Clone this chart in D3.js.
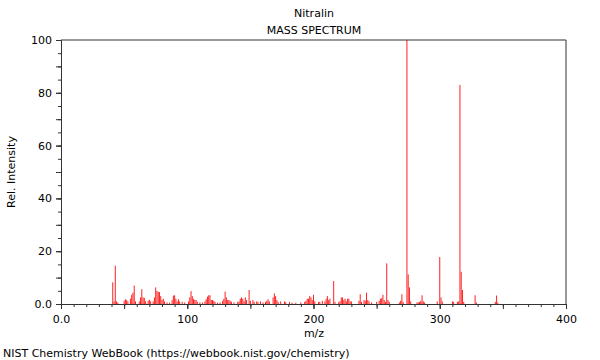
<!DOCTYPE html>
<html>
<head>
<meta charset="utf-8">
<script src="https://cdn.jsdelivr.net/npm/d3@7"></script>
<style>
  body { margin: 0; background: #fff; }
  svg { display: block; font-family: "DejaVu Sans", sans-serif; }
</style>
</head>
<body>
<svg id="chart" width="600" height="360"></svg>
<script>
// ---- data ----
const title = "Nitralin";
const subtitle = "MASS SPECTRUM";
const xLabel = "m/z";
const yLabel = "Rel. Intensity";
const footer = "NIST Chemistry WebBook (https://webbook.nist.gov/chemistry)";

const mz = [41,42,43,44,45,50,51,52,53,55,56,57,58,59,62,63,64,65,66,67,69,70,71,73,74,75,76,77,78,79,80,81,82,84,86,88,89,90,91,92,93,94,96,98,
  101,102,103,104,105,106,107,108,110,112,114,115,116,117,118,119,120,121,122,124,126,128,129,130,131,132,133,134,135,137,140,141,142,143,144,145,146,147,149,150,
  152,153,155,156,158,160,162,163,164,165,168,169,170,171,172,174,177,178,181,183,186,190,193,194,195,196,197,198,199,200,201,204,205,207,209,210,211,212,213,
  216,217,220,221,222,223,224,225,226,227,228,229,230,236,237,238,240,241,242,243,244,246,250,252,253,254,255,256,257,258,259,260,268,269,270,271,
  274,275,276,277,282,283,284,285,286,287,288,298,300,301,302,310,311,314,315,316,317,318,319,328,329,344,345,346];
const intensity = [8.2,1.0,14.5,1.0,0.5,1.2,1.8,1.5,1.0,2.0,3.5,4.3,7.0,1.0,1.0,2.5,5.6,2.5,2.3,1.0,1.2,1.6,1.0,1.0,2.5,6.3,5.0,4.6,4.5,3.0,1.5,2.0,1.0,0.6,0.5,1.5,3.2,3.3,2.0,1.0,1.8,1.0,0.8,0.6,
  1.0,2.5,4.9,3.0,2.0,1.5,1.5,0.8,0.6,0.6,1.0,1.8,2.8,3.3,3.3,1.5,1.5,1.2,0.8,0.5,0.6,1.2,2.0,4.7,2.5,1.5,1.5,1.2,0.8,0.6,0.8,1.0,2.0,2.5,2.0,1.0,2.5,1.5,5.3,1.2,
  1.5,0.8,1.0,0.8,1.0,0.6,0.8,1.2,1.8,1.0,2.5,4.0,3.0,1.5,0.8,1.0,1.0,0.7,0.8,0.5,0.5,0.6,0.8,1.2,2.0,2.0,3.0,2.5,1.5,3.5,1.0,0.8,0.8,1.2,1.0,2.0,3.0,1.5,2.0,
  8.7,0.8,0.8,1.0,2.5,2.5,1.5,2.0,1.0,2.0,2.0,1.0,1.0,1.2,3.7,0.8,1.5,1.2,4.3,1.5,1.0,0.6,0.8,1.2,2.0,2.2,3.5,1.5,0.8,15.4,1.5,0.8,0.6,1.2,3.7,0.8,
  100,11.2,6.3,1.0,0.6,0.6,0.8,1.2,3.3,1.0,0.6,1.0,17.8,2.5,1.0,1.0,0.8,0.8,1.0,83,12.2,5.3,0.8,3.3,0.6,0.8,3.2,0.5];

const xTickValues = [0,100,200,300,400];
const xTickLabels = ["0.0","100","200","300","400"];
const yTickValues = [0,20,40,60,80,100];
const yTickLabels = ["0.0","20","40","60","80","100"];

// ---- layout ----
const svg = d3.select("#chart");
const mLeft = 61, mRight = 566, mTop = 40, mBottom = 304;

const x = d3.scaleLinear().domain([0, 400]).range([mLeft, mRight]);
const y = d3.scaleLinear().domain([0, 100]).range([mBottom, mTop]);

const peaks = mz.map((m, i) => ({ m, v: intensity[i] }));

// peaks
svg.append("g").selectAll("line").data(peaks).join("line")
  .attr("x1", d => x(d.m)).attr("x2", d => x(d.m))
  .attr("y1", y(0)).attr("y2", d => y(d.v))
  .attr("stroke", "#ff2020").attr("stroke-width", 1);

// frame (top + right)
svg.append("path")
  .attr("d", `M${mLeft},${mTop}H${mRight}V${mBottom}`)
  .attr("fill", "none").attr("stroke", "#333").attr("stroke-width", 1);

// x axis: minor ticks every 10, major every 50
const xAxisG = svg.append("g").attr("transform", `translate(0,${mBottom})`);
xAxisG.call(d3.axisBottom(x).tickValues(d3.range(0, 401, 10)).tickSize(3).tickFormat(""))
  .call(g => g.select(".domain").attr("stroke", "#333"))
  .call(g => g.selectAll(".tick line").attr("stroke", "#333"));
xAxisG.append("g").call(d3.axisBottom(x).tickValues(d3.range(0, 401, 50)).tickSize(5).tickFormat(""))
  .call(g => g.select(".domain").remove())
  .call(g => g.selectAll(".tick line").attr("stroke", "#333"));
xAxisG.append("g").call(d3.axisBottom(x).tickValues(xTickValues).tickSize(5)
    .tickFormat((d, i) => xTickLabels[i]).tickPadding(6))
  .call(g => g.select(".domain").remove())
  .call(g => g.selectAll(".tick line").attr("stroke", "#333"))
  .call(g => g.selectAll("text").attr("font-size", 11).attr("fill", "#000").attr("font-family", "DejaVu Sans, sans-serif"));

// y axis: minor ticks every 5, major every 10
const yAxisG = svg.append("g").attr("transform", `translate(${mLeft},0)`);
yAxisG.call(d3.axisLeft(y).tickValues(d3.range(0, 101, 5)).tickSize(3).tickFormat(""))
  .call(g => g.select(".domain").attr("stroke", "#333"))
  .call(g => g.selectAll(".tick line").attr("stroke", "#333"));
yAxisG.append("g").call(d3.axisLeft(y).tickValues(d3.range(0, 101, 10)).tickSize(5).tickFormat(""))
  .call(g => g.select(".domain").remove())
  .call(g => g.selectAll(".tick line").attr("stroke", "#333"));
yAxisG.append("g").call(d3.axisLeft(y).tickValues(yTickValues).tickSize(5)
    .tickFormat((d, i) => yTickLabels[i]).tickPadding(4))
  .call(g => g.select(".domain").remove())
  .call(g => g.selectAll(".tick line").attr("stroke", "#333"))
  .call(g => g.selectAll("text").attr("font-size", 11).attr("fill", "#000").attr("font-family", "DejaVu Sans, sans-serif"));

// titles
svg.append("text").attr("x", 314).attr("y", 17).attr("text-anchor", "middle")
  .attr("font-size", 11).text(title);
svg.append("text").attr("x", 314).attr("y", 34).attr("text-anchor", "middle")
  .attr("font-size", 11).text(subtitle);
svg.append("text").attr("x", 314).attr("y", 337).attr("text-anchor", "middle")
  .attr("font-size", 11).text(xLabel);
svg.append("text").attr("transform", `translate(15,${(mTop + mBottom) / 2}) rotate(-90)`)
  .attr("text-anchor", "middle").attr("font-size", 11).text(yLabel);
svg.append("text").attr("x", 3).attr("y", 357).attr("font-size", 11).text(footer);
</script>
</body>
</html>
